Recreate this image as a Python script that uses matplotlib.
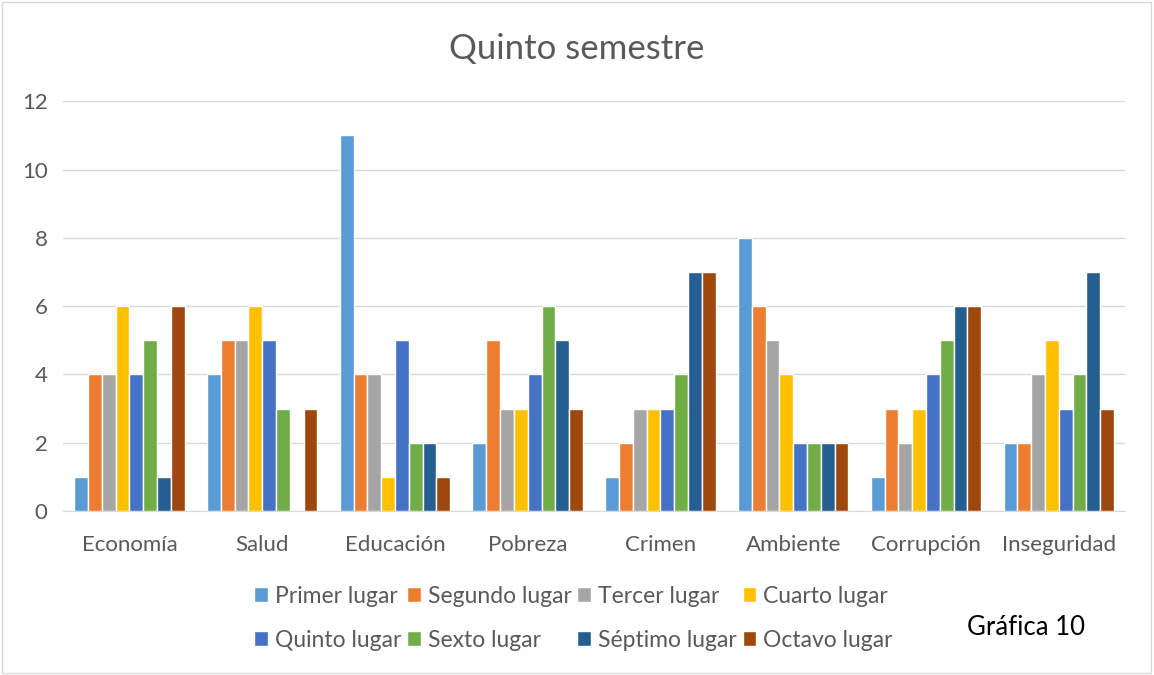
import matplotlib.pyplot as plt
import numpy as np
from matplotlib.patches import Rectangle

plt.rcParams['font.family'] = ['Lato', 'DejaVu Sans']

categories = ['Economía', 'Salud', 'Educación', 'Pobreza', 'Crimen', 'Ambiente', 'Corrupción', 'Inseguridad']
series = ['Primer lugar', 'Segundo lugar', 'Tercer lugar', 'Cuarto lugar',
          'Quinto lugar', 'Sexto lugar', 'Séptimo lugar', 'Octavo lugar']
colors = ['#5B9BD5', '#ED7D31', '#A5A5A5', '#FFC000', '#4472C4', '#70AD47', '#255E91', '#9E480E']

primer = [1, 4, 11, 2, 1, 8, 1, 2]
segundo = [4, 5, 4, 5, 2, 6, 3, 2]
tercer = [4, 5, 4, 3, 3, 5, 2, 4]
cuarto = [6, 6, 1, 3, 3, 4, 3, 5]
quinto = [4, 5, 5, 4, 3, 2, 4, 3]
sexto = [5, 3, 2, 6, 4, 2, 5, 4]
septimo = [1, 0, 2, 5, 7, 2, 6, 7]
octavo = [6, 3, 1, 3, 7, 2, 6, 3]
values = [primer, segundo, tercer, cuarto, quinto, sexto, septimo, octavo]

fig = plt.figure(figsize=(11.54, 6.75), dpi=100)
ax = fig.add_axes([0.0546, 0.243, 0.9204, 0.607])

x = np.arange(len(categories))
slot = 0.104
bars = []
for i, (name, vals) in enumerate(zip(series, values)):
    b = ax.bar(x + (i - 3.5) * slot, vals, slot, color=colors[i], edgecolor='white',
               linewidth=1, label=name, zorder=3)
    bars.append(b)

ax.set_xlim(-0.5, 7.5)
ax.set_ylim(0, 12)
ax.set_yticks(range(0, 13, 2))
ax.set_xticks(x)
ax.set_xticklabels(categories)
ax.yaxis.grid(True, color='#D9D9D9', linewidth=1, zorder=0)
for s in ['top', 'right', 'left']:
    ax.spines[s].set_visible(False)
ax.spines['bottom'].set_color('#D9D9D9')
ax.tick_params(axis='both', length=0, labelsize=16, colors='#595959')
ax.tick_params(axis='x', pad=17)
ax.tick_params(axis='y', pad=11)

fig.text(0.5, 0.928, 'Quinto semestre', ha='center', va='center', fontsize=25, color='#595959')

# row-wise legend order (matplotlib fills columns first)
order = [0, 4, 1, 5, 2, 6, 3, 7]
leg = fig.legend([bars[k] for k in order], [series[k] for k in order],
                 loc='center', bbox_to_anchor=(0.497, 0.084), ncol=4, frameon=False,
                 fontsize=16.5, handlelength=0.6, handleheight=0.6, handletextpad=0.3,
                 columnspacing=0.25, labelspacing=1.0, labelcolor='#595959')

fig.text(0.889, 0.07, 'Gráfica 10', ha='center', va='center', fontsize=18.5, color='black')

fig.patches.append(Rectangle((0.002, 0.003), 0.995, 0.994, transform=fig.transFigure,
                             fill=False, edgecolor='#D9D9D9', linewidth=1))

fig.savefig('out.png', dpi=100)
